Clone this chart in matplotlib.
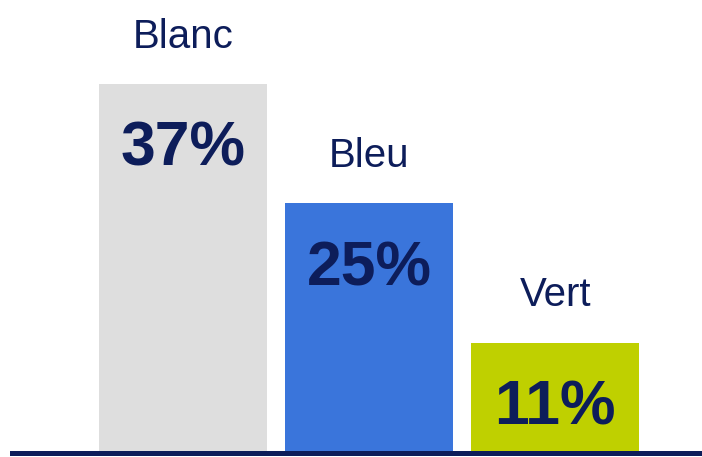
import matplotlib.pyplot as plt

categories = ['Blanc', 'Bleu', 'Vert']
values = [37, 25, 11]
colors = ['#dedede', '#3a75db', '#bfd000']
navy = '#0d1d5a'

plt.rcParams['font.family'] = ['Liberation Sans', 'DejaVu Sans']

fig = plt.figure(figsize=(7.02, 4.57), dpi=100)
ax = fig.add_axes([0, 5 / 457, 1, 452 / 457])

px_unit = 368 / 37
x = list(range(len(categories)))
ax.bar(x, values, width=168 / 186, color=colors, zorder=1)

ax.set_xlim(-183.3 / 186, (702 - 183.3) / 186)
ax.set_ylim(0, 452 / px_unit)
ax.axhline(-0.15, xmin=12 / 702, xmax=1, color=navy, linewidth=3.6,
           zorder=3, clip_on=False)

for xi, cat, v in zip(x, categories, values):
    ax.annotate(cat, (xi, v), xytext=(0, 26), textcoords='offset points',
                ha='center', va='baseline', fontsize=29, color=navy)
    ax.annotate(f'{v}%', (xi, v), xytext=(0, -59), textcoords='offset points',
                ha='center', va='baseline', fontsize=45, fontweight='bold',
                color=navy)

ax.axis('off')
fig.savefig('out.png', dpi=100)
